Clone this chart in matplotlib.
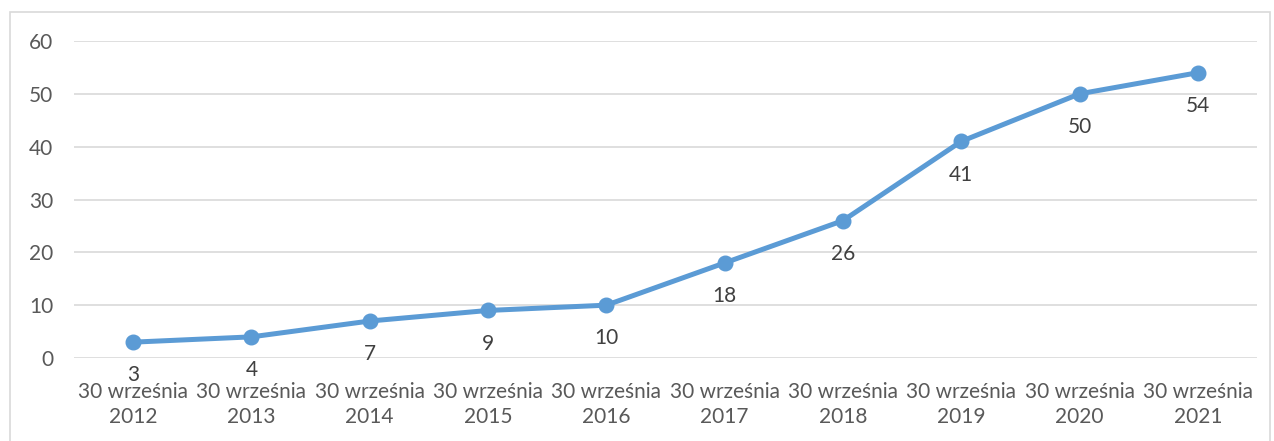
import matplotlib.pyplot as plt
from matplotlib.patches import Rectangle

# Data
years = ['2012', '2013', '2014', '2015', '2016', '2017', '2018', '2019', '2020', '2021']
values = [3, 4, 7, 9, 10, 18, 26, 41, 50, 54]
labels = ['30 września\n' + y for y in years]

plt.rcParams['font.family'] = ['Lato', 'DejaVu Sans']
text_color = '#595959'
grid_color = '#D9D9D9'
line_color = '#5B9BD5'

fig = plt.figure(figsize=(12.74, 4.41), dpi=100)
ax = fig.add_axes([74 / 1274, 1 - 358 / 441, (1257 - 74) / 1274, (358 - 41) / 441])

x = list(range(len(values)))
ax.plot(x, values, color=line_color, lw=3.6, marker='o', markersize=10.5,
        solid_capstyle='round')

# data labels under each point
for xi, v in zip(x, values):
    ax.annotate(str(v), (xi, v), xytext=(0, -24), textcoords='offset points',
                ha='center', va='center', fontsize=15, color='#404040')

ax.set_xlim(-0.5, len(values) - 0.5)
ax.set_ylim(0, 60)
ax.set_yticks(range(0, 61, 10))
ax.set_xticks(x)
ax.set_xticklabels(labels, linespacing=1.35)
ax.yaxis.grid(True, color=grid_color, lw=1.2)
ax.set_axisbelow(True)
for s in ax.spines.values():
    s.set_visible(False)
ax.tick_params(axis='both', length=0, labelsize=15, colors=text_color)
ax.tick_params(axis='y', pad=15)
ax.tick_params(axis='x', pad=17)

# outer chart frame
fig.patches.append(Rectangle((10 / 1274, -0.1), 1260 / 1274, 1.1 - 12 / 441,
                             transform=fig.transFigure, fill=False,
                             edgecolor=grid_color, lw=1.2))

fig.savefig('out.png', dpi=100)
